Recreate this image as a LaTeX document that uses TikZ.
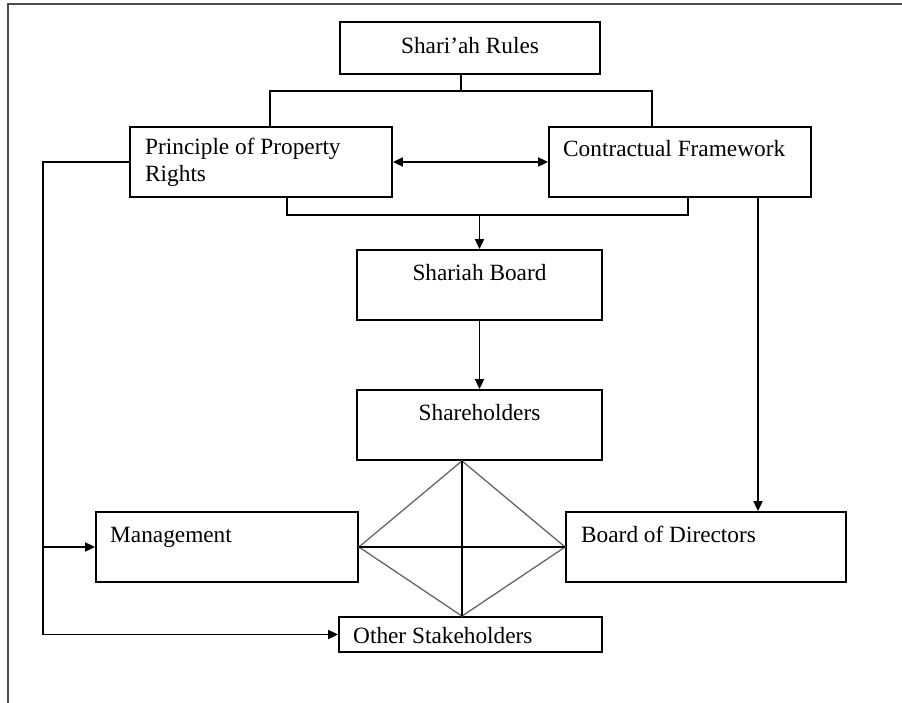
\documentclass[tikz,border=0pt]{standalone}
\usepackage{fontspec}
\setmainfont{Liberation Serif}
\usetikzlibrary{arrows.meta}
\begin{document}
\begin{tikzpicture}[x=1pt,y=-1pt,
  box/.style={draw, line width=1.8pt, rectangle, inner sep=0pt},
  txt/.style={font=\fontsize{23.3}{27}\selectfont, inner sep=0pt},
  ln/.style={line width=1.8pt},
  arr/.style={ln, -{Triangle[length=10pt,width=9pt]}},
  darr/.style={ln, {Triangle[length=10pt,width=9pt]}-{Triangle[length=10pt,width=9pt]}},
  diag/.style={line width=1.3pt, gray!80!black},
  frame/.style={line width=2pt, gray!60!black}]
\useasboundingbox (0,0) rectangle (902,703);
% frame
\draw[frame] (8,703) -- (8,4) -- (902,4);
% boxes
\node[box, minimum width=260pt, minimum height=52pt] (rules) at (470,48) {};
\node[box, minimum width=262pt, minimum height=70pt] (principle) at (261,162) {};
\node[box, minimum width=262pt, minimum height=70pt] (contract) at (680,162) {};
\node[box, minimum width=245pt, minimum height=70pt] (sboard) at (479.5,285) {};
\node[box, minimum width=245pt, minimum height=70pt] (sholders) at (479.5,425) {};
\node[box, minimum width=262pt, minimum height=70pt] (mgmt) at (227,547) {};
\node[box, minimum width=280pt, minimum height=70pt] (bod) at (706,547) {};
\node[box, minimum width=263pt, minimum height=35pt] (others) at (470.5,634.5) {};
% texts
\node[txt, anchor=base] (trules) at (470,54) {Shari’ah Rules};
\node[txt, anchor=base west] (tprin1) at (145,155) {Principle of Property};
\node[txt, anchor=base west] (tprin2) at (145,182) {Rights};
\node[txt, anchor=base west] (tcontract) at (563,157) {Contractual Framework};
\node[txt, anchor=base] (tsboard) at (479.5,280) {Shariah Board};
\node[txt, anchor=base] (tsholders) at (479.5,420) {Shareholders};
\node[txt, anchor=base west] (tmgmt) at (110,542) {Management};
\node[txt, anchor=base west] (tbod) at (581,542) {Board of Directors};
\node[txt, anchor=base west] (tothers) at (353,643) {Other Stakeholders};
% helper coordinates
\coordinate (jM) at (461,91);
\coordinate (jL) at (270,91);
\coordinate (jR) at (652,91);
\coordinate (bL) at (287,215);
\coordinate (bR) at (688,215);
\coordinate (bM) at (479.5,215);
\coordinate (xR) at (758,300);
\coordinate (lc) at (43,162);
\coordinate (xd) at (462,300);
\coordinate (dtop) at (sholders.south -| xd);
\coordinate (dbot) at (others.north -| xd);
% connectors
\draw[ln] (rules.south -| jM) -- (jM);
\draw[ln] (principle.north -| jL) -- (jL) -- (jR) -- (contract.north -| jR);
\draw[darr] (principle.east) -- (contract.west);
\draw[ln] (principle.south -| bL) -- (bL) -- (bR) -- (contract.south -| bR);
\draw[arr] (bM) -- (sboard.north);
\draw[arr] (sboard.south) -- (sholders.north);
\draw[arr] (contract.south -| xR) -- (bod.north -| xR);
\draw[arr] (principle.west) -- (lc) -- (lc |- others.west) -- (others.west);
\draw[arr] (lc |- mgmt.west) -- (mgmt.west);
% diamond
\draw[diag] (dtop) -- (mgmt.east) -- (dbot) -- (bod.west) -- cycle;
\draw[ln] (mgmt.east) -- (bod.west);
\draw[ln] (dtop) -- (dbot);
\end{tikzpicture}
\end{document}
